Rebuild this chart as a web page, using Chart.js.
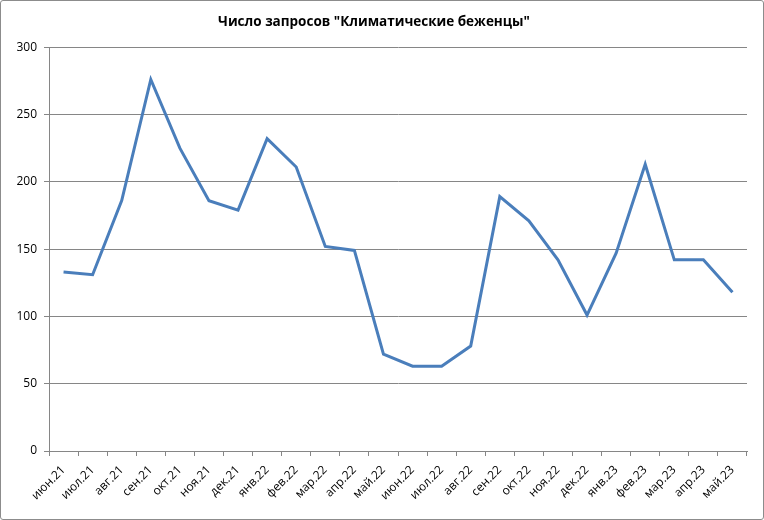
<!DOCTYPE html>
<html>
<head>
<meta charset="utf-8">
<script src="https://cdn.jsdelivr.net/npm/chart.js@4"></script>
<style>
    body { margin: 0; background: #fff; }
    #wrap { width: 764px; height: 520px; box-sizing: border-box; border: 1px solid #8c8c8c; border-radius: 3px; }
    #wrap canvas { display: block; }
</style>
</head>
<body>
<div id="wrap"><canvas id="lineChart" width="762" height="518"></canvas></div>
<script>
const months = ['июн.21', 'июл.21', 'авг.21', 'сен.21', 'окт.21', 'ноя.21', 'дек.21', 'янв.22', 'фев.22', 'мар.22', 'апр.22', 'май.22',
    'июн.22', 'июл.22', 'авг.22', 'сен.22', 'окт.22', 'ноя.22', 'дек.22', 'янв.23', 'фев.23', 'мар.23', 'апр.23', 'май.23'];
const requests = [133, 131, 186, 276, 225, 186, 179, 232, 211, 152, 149, 72,
    63, 63, 78, 189, 171, 142, 101, 147, 213, 142, 142, 118];
const yTicks = [0, 50, 100, 150, 200, 250, 300];
const chartTitle = 'Число запросов "Климатические беженцы"';

const gridColor = '#868686';

document.addEventListener("DOMContentLoaded", () => {
    const ctx = document.getElementById('lineChart').getContext('2d');
    new Chart(ctx, {
        type: 'line',
        data: {
            labels: months,
            datasets: [{ data: requests, borderColor: '#4a7ebb', borderWidth: 3, pointRadius: 0, tension: 0, fill: false }]
        },
        options: {
            responsive: false,
            animation: false,
            layout: { padding: { left: 0, right: 16, top: 0, bottom: 0 } },
            plugins: {
                legend: { display: false },
                tooltip: { enabled: false },
                title: {
                    display: true,
                    text: chartTitle,
                    color: '#000',
                    font: { family: 'Open Sans', size: 13.5, weight: 'bold' },
                    padding: { top: 13, bottom: 17 }
                }
            },
            scales: {
                x: {
                    offset: true,
                    grid: { offset: true, drawOnChartArea: false, drawTicks: true, tickLength: 5, color: gridColor },
                    border: { color: gridColor },
                    ticks: { color: '#000', autoSkip: false, maxRotation: 45, minRotation: 45, padding: 7,
                        font: { family: 'Open Sans', size: 12 } },
                    afterFit: s => { s.height = 68; }
                },
                y: {
                    min: 0,
                    max: 300,
                    afterBuildTicks: s => { s.ticks = yTicks.map(v => ({ value: v })); },
                    grid: { color: gridColor, tickLength: 5 },
                    border: { color: gridColor },
                    ticks: { color: '#000', padding: 7, font: { family: 'Open Sans', size: 12 } },
                    afterFit: s => { s.width = 48; }
                }
            }
        }
    });
});
</script>
</body>
</html>
